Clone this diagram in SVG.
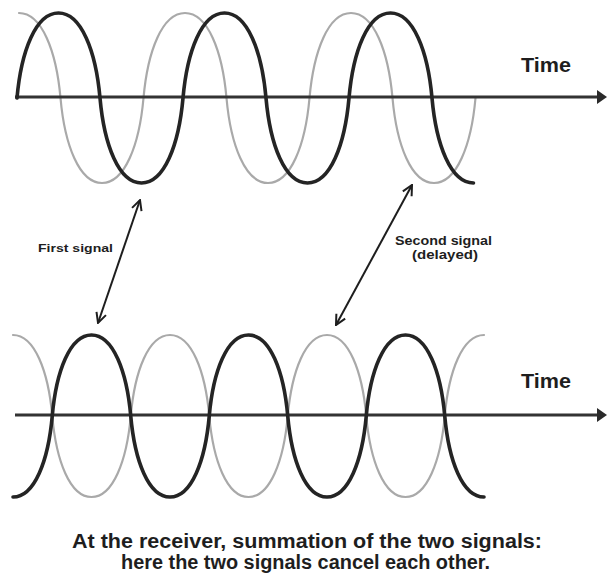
<svg xmlns="http://www.w3.org/2000/svg" width="608" height="584" viewBox="0 0 608 584">
<style>
.bg{fill:#ffffff}
.dark{fill:none;stroke:#242424;stroke-width:3.6;stroke-linecap:round;stroke-linejoin:round}
.light{fill:none;stroke:#a9a9a9;stroke-width:2.2;stroke-linecap:round;stroke-linejoin:round}
.axis{fill:none;stroke:#333333;stroke-width:3}
.head{fill:#2a2a2a}
.conn{fill:none;stroke:#1e1e1e;stroke-width:2;marker-start:url(#v);marker-end:url(#v)}
text{font-family:"Liberation Sans",Arial,sans-serif;font-weight:bold;fill:#1e1e1e}
.time{font-size:20px}
.small1{font-size:11.5px}
.small2{font-size:12.5px}
.cap{font-size:20px}
</style>
<defs>
<marker id="v" viewBox="0 0 12 12" refX="11" refY="6" markerWidth="12" markerHeight="12" markerUnits="userSpaceOnUse" orient="auto-start-reverse">
<path d="M1,1 L11,6 L1,11" fill="none" stroke="#1e1e1e" stroke-width="2"/>
</marker>
</defs>
<rect class="bg" x="0" y="0" width="608" height="584"/>

<g id="top-panel">
<path class="light" d="M19,13 c22.82,0 37.35,38.25 41.5,85 c4.15,46.75 18.68,85 41.5,85 c22.82,0 37.35,-38.25 41.5,-85 c4.15,-46.75 18.68,-85 41.5,-85 c22.82,0 37.35,38.25 41.5,85 c4.15,46.75 18.68,85 41.5,85 c22.82,0 37.35,-38.25 41.5,-85 c4.15,-46.75 18.68,-85 41.5,-85 c22.82,0 37.35,38.25 41.5,85 c4.15,46.75 18.68,85 41.5,85 c22.82,0 37.35,-38.25 41.5,-85"/>
<line class="axis" x1="15" y1="97" x2="599" y2="97"/>
<polygon class="head" points="597,90 607,97 597,104"/>
<path class="dark" d="M17,98 c4.15,-46.75 18.68,-85 41.5,-85 c22.82,0 37.35,38.25 41.5,85 c4.15,46.75 18.68,85 41.5,85 c22.82,0 37.35,-38.25 41.5,-85 c4.15,-46.75 18.68,-85 41.5,-85 c22.82,0 37.35,38.25 41.5,85 c4.15,46.75 18.68,85 41.5,85 c22.82,0 37.35,-38.25 41.5,-85 c4.15,-46.75 18.68,-85 41.5,-85 c22.82,0 37.35,38.25 41.5,85 c4.15,46.75 18.68,85 41.5,85"/>
<text class="time" x="521" y="72" textLength="50" lengthAdjust="spacingAndGlyphs">Time</text>
</g>

<g id="bottom-panel">
<path class="light" d="M13,335 c21.59,0 35.32,36.45 39.25,81 c3.93,44.55 17.66,81 39.25,81 c21.59,0 35.32,-36.45 39.25,-81 c3.93,-44.55 17.66,-81 39.25,-81 c21.59,0 35.32,36.45 39.25,81 c3.93,44.55 17.66,81 39.25,81 c21.59,0 35.32,-36.45 39.25,-81 c3.93,-44.55 17.66,-81 39.25,-81 c21.59,0 35.32,36.45 39.25,81 c3.93,44.55 17.66,81 39.25,81 c21.59,0 35.32,-36.45 39.25,-81 c3.93,-44.55 17.66,-81 39.25,-81"/>
<line class="axis" x1="15" y1="415" x2="599" y2="415"/>
<polygon class="head" points="597,408 607,415 597,422"/>
<path class="dark" d="M13,497 c21.59,0 35.32,-36.45 39.25,-81 c3.93,-44.55 17.66,-81 39.25,-81 c21.59,0 35.32,36.45 39.25,81 c3.93,44.55 17.66,81 39.25,81 c21.59,0 35.32,-36.45 39.25,-81 c3.93,-44.55 17.66,-81 39.25,-81 c21.59,0 35.32,36.45 39.25,81 c3.93,44.55 17.66,81 39.25,81 c21.59,0 35.32,-36.45 39.25,-81 c3.93,-44.55 17.66,-81 39.25,-81 c21.59,0 35.32,36.45 39.25,81 c3.93,44.55 17.66,81 39.25,81"/>
<text class="time" x="521" y="388" textLength="50" lengthAdjust="spacingAndGlyphs">Time</text>
</g>

<g id="first-signal-label">
<text class="small1" x="38" y="252" textLength="75" lengthAdjust="spacingAndGlyphs">First signal</text>
</g>
<g id="second-signal-label">
<text class="small2" x="395" y="245" textLength="97" lengthAdjust="spacingAndGlyphs">Second signal</text>
<text class="small2" x="412" y="259" textLength="66" lengthAdjust="spacingAndGlyphs">(delayed)</text>
</g>

<g id="connectors">
<line class="conn" x1="140" y1="200" x2="98" y2="323"/>
<line class="conn" x1="412" y1="185" x2="336" y2="325"/>
</g>

<g id="caption">
<text class="cap" x="72" y="548" textLength="470" lengthAdjust="spacingAndGlyphs">At the receiver, summation of the two signals:</text>
<text class="cap" x="121" y="569" textLength="369" lengthAdjust="spacingAndGlyphs">here the two signals cancel each other.</text>
</g>
</svg>
